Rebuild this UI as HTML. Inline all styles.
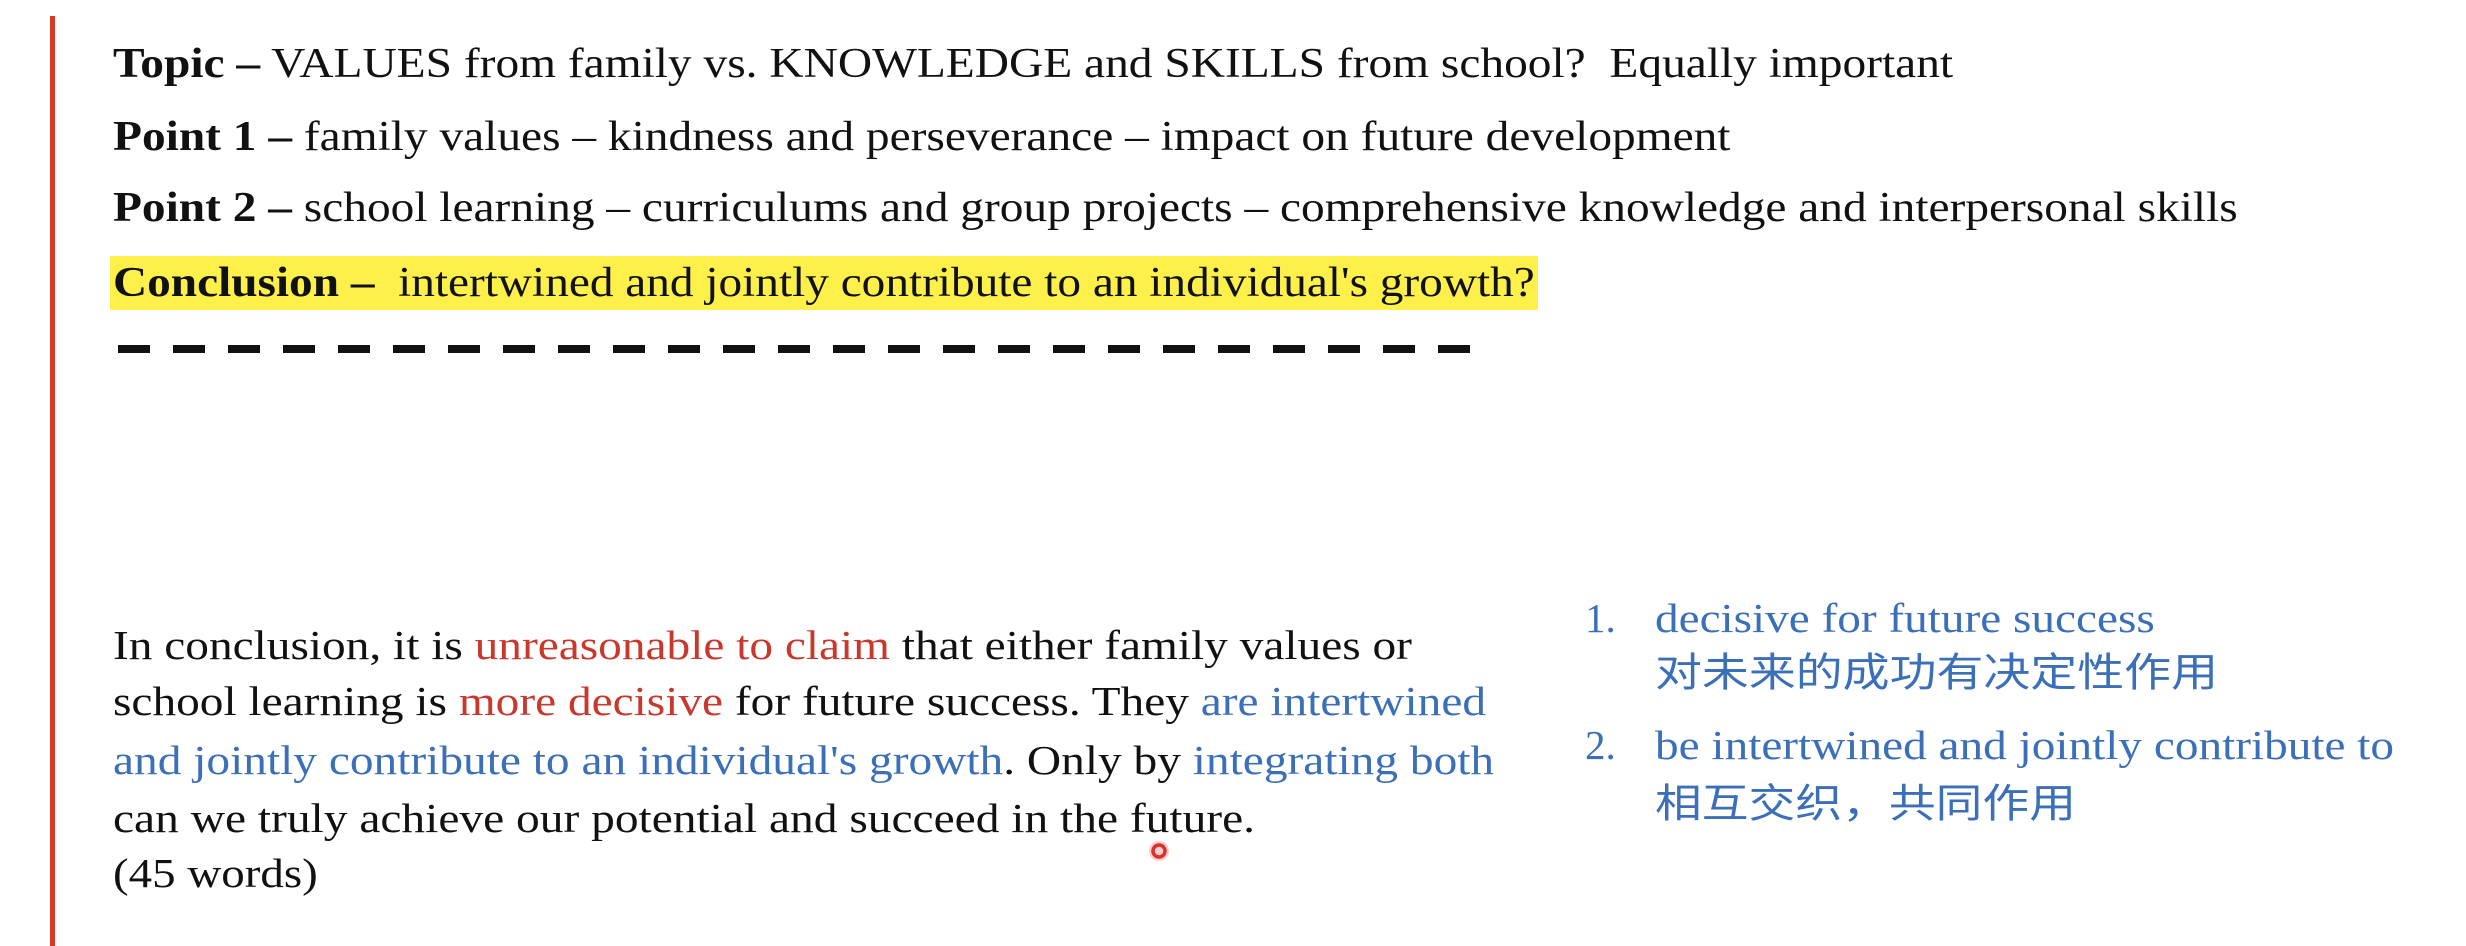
<!DOCTYPE html>
<html><head><meta charset="utf-8">
<style>
html,body{margin:0;padding:0;background:#fff;}
body{width:2466px;height:946px;position:relative;overflow:hidden;font-family:"Liberation Serif","Noto Serif CJK SC",serif;color:#111;}
.ln{position:absolute;white-space:nowrap;line-height:60px;height:60px;transform-origin:0 50%;}
.h{font-size:42px;}
.p{font-size:41px;}
.r{color:#c8382c;}
.b{color:#3b6fb8;}
.cjk{font-family:"Liberation Sans","Noto Sans CJK SC",sans-serif;}
</style></head><body>
<div style="position:absolute;left:50px;top:16px;width:5px;height:930px;background:#d33a2c;"></div>
<div style="position:absolute;left:110px;top:256px;width:1428px;height:54px;background:#fdf04a;"></div>

<div class="ln h" data-w="1840" style="left:113px;top:34px;"><b>Topic –</b> VALUES from family vs. KNOWLEDGE and SKILLS from school?&nbsp; Equally important</div>
<div class="ln h" data-w="1617" style="left:113px;top:107px;"><b>Point 1 –</b> family values – kindness and perseverance – impact on future development</div>
<div class="ln h" data-w="2125" style="left:113px;top:178px;"><b>Point 2 –</b> school learning – curriculums and group projects – comprehensive knowledge and interpersonal skills</div>
<div class="ln h" data-w="1422" style="left:113px;top:253px;"><b>Conclusion –</b>&nbsp; intertwined and jointly contribute to an individual's growth?</div>

<svg style="position:absolute;left:0;top:0" width="2466" height="946"><line x1="118" y1="349" x2="1470" y2="349" stroke="#111" stroke-width="8" stroke-dasharray="32 23"/>
<circle cx="1159" cy="851" r="10" fill="rgba(230,60,50,0.25)"/><circle cx="1159" cy="851" r="6" fill="none" stroke="#d8322a" stroke-width="3.5"/></svg>

<div class="ln p" data-w="1299" style="left:113px;top:615px;">In conclusion, it is <span class="r">unreasonable to claim</span> that either family values or</div>
<div class="ln p" data-w="1373" style="left:113px;top:671px;">school learning is <span class="r">more decisive</span> for future success. They <span class="b">are intertwined</span></div>
<div class="ln p" data-w="1381" style="left:113px;top:730px;"><span class="b">and jointly contribute to an individual's growth</span>. Only by <span class="b">integrating both</span></div>
<div class="ln p" data-w="1142" style="left:113px;top:788px;">can we truly achieve our potential and succeed in the future.</div>
<div class="ln p" data-w="205" style="left:113px;top:843px;">(45 words)</div>

<div class="ln p b" style="left:1585px;top:588px;">1.</div>
<div class="ln p b" data-w="500" style="left:1655px;top:588px;">decisive for future success</div>
<div class="ln p b cjk" data-w="563" style="left:1655px;top:643px;font-size:40px;">对未来的成功有决定性作用</div>
<div class="ln p b" style="left:1585px;top:715px;">2.</div>
<div class="ln p b" data-w="739" style="left:1655px;top:715px;">be intertwined and jointly contribute to</div>
<div class="ln p b cjk" data-w="421" style="left:1655px;top:774px;font-size:40px;">相互交织，共同作用</div>

<script>
document.querySelectorAll('[data-w]').forEach(function(el){
  var w=el.scrollWidth, t=parseFloat(el.getAttribute('data-w'));
  if(w>0) el.style.transform='scaleX('+(t/w)+')';
});
</script>
</body></html>
